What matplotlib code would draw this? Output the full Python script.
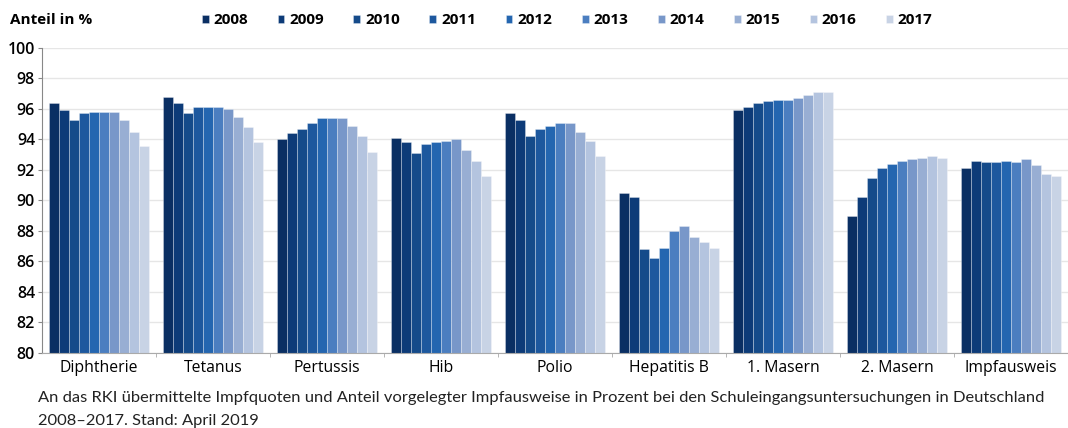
#Importing Modules
import matplotlib
matplotlib.use("Agg")
import matplotlib.pyplot as plt
import numpy as np

#Data Values
categories = ["Diphtherie", "Tetanus", "Pertussis", "Hib", "Polio",
              "Hepatitis B", "1. Masern", "2. Masern", "Impfausweis"]
years = ["2008", "2009", "2010", "2011", "2012", "2013", "2014", "2015", "2016", "2017"]

diphtherie = [96.4, 95.9, 95.3, 95.7, 95.8, 95.8, 95.8, 95.3, 94.5, 93.6]
tetanus = [96.8, 96.4, 95.7, 96.1, 96.1, 96.1, 96.0, 95.5, 94.8, 93.8]
pertussis = [94.0, 94.4, 94.7, 95.1, 95.4, 95.4, 95.4, 94.9, 94.2, 93.2]
hib = [94.1, 93.8, 93.1, 93.7, 93.8, 93.9, 94.0, 93.3, 92.6, 91.6]
polio = [95.7, 95.3, 94.2, 94.7, 94.9, 95.1, 95.1, 94.5, 93.9, 92.9]
hepatitis_b = [90.5, 90.2, 86.8, 86.2, 86.9, 88.0, 88.3, 87.6, 87.3, 86.9]
masern_1 = [95.9, 96.1, 96.4, 96.5, 96.6, 96.6, 96.7, 96.9, 97.1, 97.1]
masern_2 = [89.0, 90.2, 91.5, 92.1, 92.4, 92.6, 92.7, 92.8, 92.9, 92.8]
impfausweis = [92.1, 92.6, 92.5, 92.5, 92.6, 92.5, 92.7, 92.3, 91.7, 91.6]

values = np.array([diphtherie, tetanus, pertussis, hib, polio,
                   hepatitis_b, masern_1, masern_2, impfausweis])

colors = ["#0a2f63", "#0d3b78", "#154b8a", "#1d589e", "#2466b0",
          "#4b7ec0", "#7897c9", "#98aed3", "#b4c4df", "#c8d3e5"]

#Graph Styling/Plotting
plt.rcParams['font.family'] = ['Open Sans', 'DejaVu Sans']
fig = plt.figure(figsize=(10.68, 4.28), dpi=100)
ax = fig.add_axes([0.0393, 0.1752, 0.9607, 0.713])

x = np.arange(len(categories))
group_w = 0.877
bar_w = group_w / len(years)
bars = []
for i, year in enumerate(years):
    offs = -group_w / 2 + bar_w * (i + 0.5)
    b = ax.bar(x + offs, values[:, i] - 80, bar_w, bottom=80, color=colors[i],
               edgecolor=(1, 1, 1, 0.35), linewidth=0.6, label=year, zorder=2)
    bars.append(b)

ax.set_xlim(-0.5, len(categories) - 0.5)
ax.set_ylim(80, 100)
ax.set_yticks(np.arange(80, 101, 2))
ax.tick_params(axis='y', labelsize=11.5, length=3, color='#888888', pad=2)
for lbl in ax.get_yticklabels():
    lbl.set_fontweight('semibold')
ax.yaxis.grid(True, color='#e6e6e6', linewidth=1, zorder=0)
ax.set_axisbelow(True)

ax.set_xticks(x)
ax.set_xticklabels(categories, fontsize=11.3)
ax.tick_params(axis='x', length=0, pad=5)
ax.set_xticks(x[:-1] + 0.5, minor=True)
ax.tick_params(axis='x', which='minor', length=3, color='#aaaaaa')

for s in ['top', 'right']:
    ax.spines[s].set_visible(False)
ax.spines['left'].set_color('#888888')
ax.spines['bottom'].set_color('#aaaaaa')

#Legend / Labels
fig.text(0.0094, 0.953, "Anteil in %", fontsize=11, fontweight='bold', va='center')
fig.legend(handles=bars, loc='center left', bbox_to_anchor=(0.176, 0.953),
           ncol=10, frameon=False, handlelength=0.45, handleheight=0.45,
           handletextpad=0.3, columnspacing=1.95,
           prop={'size': 11, 'weight': 'bold'})

fig.text(0.0356, 0.07, "An das RKI übermittelte Impfquoten und Anteil vorgelegter Impfausweise in Prozent "
         "bei den Schuleingangsuntersuchungen in Deutschland", fontsize=11.85, color='#222222',
         va='center', family=['Lato', 'DejaVu Sans'])
fig.text(0.0356, 0.016, "2008–2017. Stand: April 2019", fontsize=11.85, color='#222222',
         va='center', family=['Lato', 'DejaVu Sans'])

#Save Graph
fig.savefig("out.png", dpi=100)
